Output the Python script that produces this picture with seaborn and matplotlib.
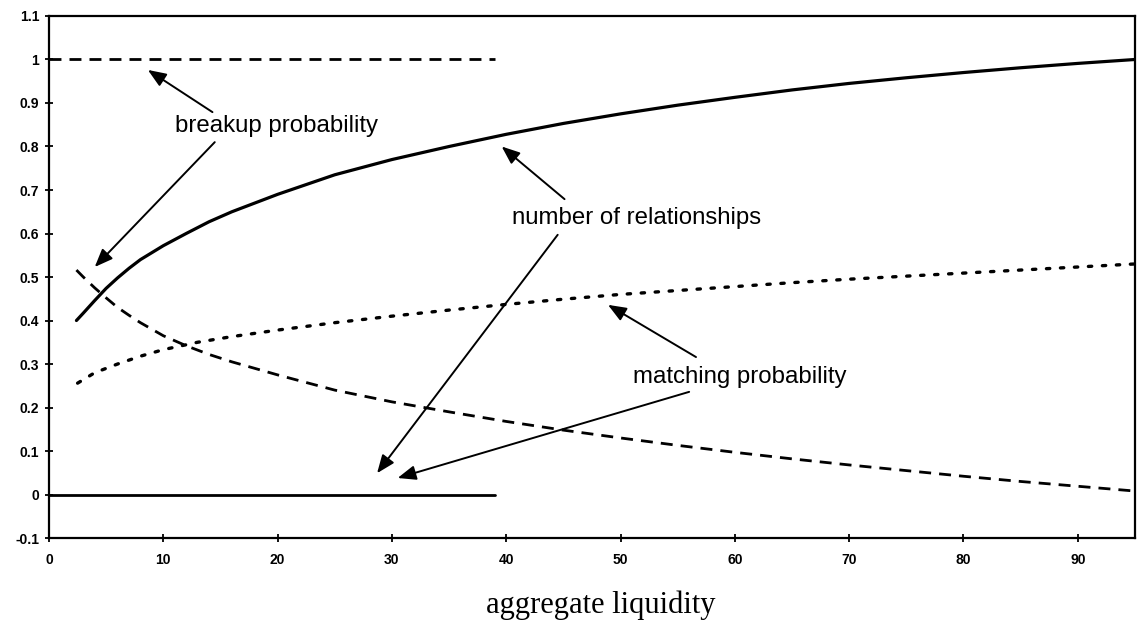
import matplotlib
matplotlib.use("Agg")
import matplotlib.pyplot as plt
import seaborn as sns

# values
x_rel = [2.4, 3, 4, 5, 6, 7, 8, 10, 12, 14, 16, 18, 20, 25, 30, 35, 40, 45, 50, 55, 60,
         65, 70, 75, 80, 85, 90, 95]
y_rel = [0.40, 0.417, 0.446, 0.474, 0.498, 0.52, 0.54, 0.572, 0.60, 0.627, 0.65, 0.67, 0.69,
         0.735, 0.77, 0.80, 0.828, 0.853, 0.875, 0.895, 0.913, 0.93, 0.945, 0.958, 0.97,
         0.981, 0.991, 1.0]

x_brk = [2.4, 3, 4, 5, 6, 7, 8, 10, 12, 14, 16, 18, 20, 25, 30, 35, 40, 45, 50, 55, 60,
         65, 70, 75, 80, 85, 90, 95]
y_brk = [0.516, 0.50, 0.475, 0.452, 0.43, 0.412, 0.395, 0.365, 0.342, 0.322, 0.305, 0.29,
         0.275, 0.24, 0.213, 0.19, 0.168, 0.148, 0.13, 0.113, 0.097, 0.082, 0.068, 0.055,
         0.042, 0.03, 0.019, 0.008]

x_match = [2.5, 4, 6, 8, 10, 13, 16, 20, 25, 30, 35, 40, 45, 50, 55, 60, 65, 70, 75, 80,
           85, 90, 95]
y_match = [0.256, 0.28, 0.30, 0.318, 0.333, 0.35, 0.363, 0.378, 0.395, 0.41, 0.424, 0.437,
           0.449, 0.46, 0.469, 0.478, 0.487, 0.495, 0.502, 0.509, 0.516, 0.523, 0.53]

# the two flat segments
x_flat = [0, 39]
y_brk_flat = [1, 1]
y_rel_flat = [0, 0]

x_ticks = [0, 10, 20, 30, 40, 50, 60, 70, 80, 90]
y_ticks = [-0.1, 0, 0.1, 0.2, 0.3, 0.4, 0.5, 0.6, 0.7, 0.8, 0.9, 1, 1.1]
y_tick_labels = ['-0.1', '0', '0.1', '0.2', '0.3', '0.4', '0.5', '0.6', '0.7', '0.8', '0.9', '1', '1.1']

labels = ["breakup probability", "number of relationships", "matching probability"]
label_pos = [(19.9, 0.846), (51.4, 0.635), (60.4, 0.27)]
# arrows: (tail, head)
arrows = [((14.3, 0.879), (8.65, 0.976)),
          ((14.5, 0.81), (4.0, 0.523)),
          ((45.1, 0.679), (39.6, 0.80)),
          ((44.5, 0.597), (28.7, 0.049)),
          ((56.6, 0.316), (48.9, 0.436)),
          ((56.0, 0.236), (30.5, 0.038))]

sns.set_style("ticks")
plt.rcParams['font.family'] = ['Liberation Sans', 'DejaVu Sans']
plt.rcParams['text.color'] = 'black'
plt.rcParams['axes.labelcolor'] = 'black'
plt.rcParams['xtick.color'] = 'black'
plt.rcParams['ytick.color'] = 'black'

fig, ax = plt.subplots(figsize=(11.37, 6.22), dpi=100)
fig.subplots_adjust(left=0.0431, right=0.9982, top=0.9743, bottom=0.135)

dash = (0, (4.3, 2.9))
dot = (0, (1.0, 3.2))

sns.lineplot(x=x_rel, y=y_rel, ax=ax, color='black', lw=2.3, sort=False)
sns.lineplot(x=x_flat, y=y_rel_flat, ax=ax, color='black', lw=2.0, sort=False)
sns.lineplot(x=x_brk, y=y_brk, ax=ax, color='black', lw=2.0, linestyle=dash, sort=False)
sns.lineplot(x=x_flat, y=y_brk_flat, ax=ax, color='black', lw=2.0, linestyle=dash, sort=False)
sns.lineplot(x=x_match, y=y_match, ax=ax, color='black', lw=2.4, linestyle=dot,
             dash_capstyle='round', sort=False)

for txt, pos in zip(labels, label_pos):
    ax.text(pos[0], pos[1], txt, fontsize=17.3, ha='center', va='center', color='black')

for tail, head in arrows:
    ax.annotate('', xy=head, xytext=tail,
                arrowprops=dict(arrowstyle='-|>,head_length=0.55,head_width=0.22',
                                color='black', lw=1.4, mutation_scale=20,
                                shrinkA=0, shrinkB=0))

ax.set_xlim(0, 95)
ax.set_ylim(-0.1, 1.1)
ax.set_xticks(x_ticks)
ax.set_xticklabels([str(t) for t in x_ticks])
ax.set_yticks(y_ticks)
ax.set_yticklabels(y_tick_labels)
ax.tick_params(direction='inout', length=6, width=1.3, labelsize=10, pad=4, colors='black')
for lab in ax.get_xticklabels() + ax.get_yticklabels():
    lab.set_fontweight('bold')
ax.tick_params(axis='x', pad=8)

for side in ['left', 'right', 'top', 'bottom']:
    ax.spines[side].set_visible(True)
    ax.spines[side].set_linewidth(1.6)
    ax.spines[side].set_color('black')

ax.set_xlabel("aggregate liquidity", fontsize=22, family=['Liberation Serif', 'DejaVu Serif'],
              va='center', color='black')
ax.xaxis.set_label_coords(0.508, -0.128)
ax.set_ylabel('')

fig.savefig("out.png", dpi=100)
